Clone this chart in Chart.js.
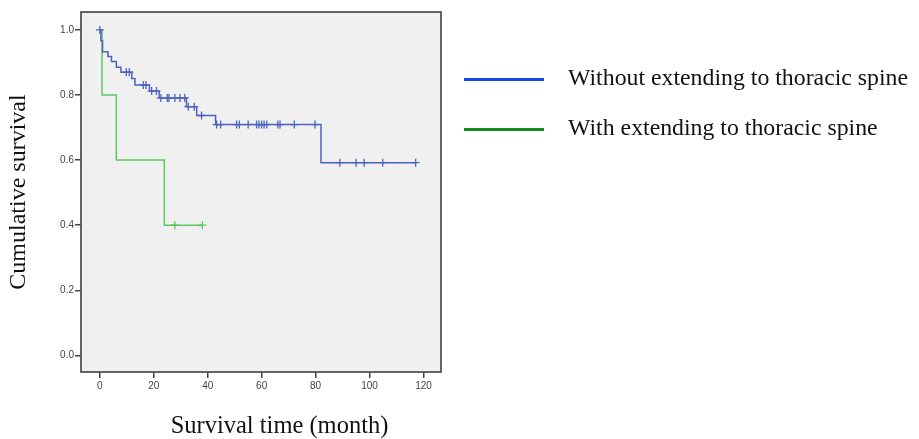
<!DOCTYPE html>
<html>
<head>
<meta charset="utf-8">
<script src="https://cdn.jsdelivr.net/npm/chart.js@4.4.0/dist/chart.umd.min.js"></script>
<style>
  html, body { margin: 0; padding: 0; background: #ffffff; }
  #wrap { position: relative; width: 919px; height: 439px; overflow: hidden; }
  #c { position: absolute; left: 0; top: 0; }
  .lgline { position: absolute; left: 464px; width: 80px; height: 3px; }
  .lgtext, .xtitle {
    position: absolute; font-family: "Liberation Serif", "Times New Roman", serif;
    color: #111; white-space: nowrap; line-height: 30px; height: 30px;
  }
  .lgtext { left: 568px; font-size: 23.8px; }
  .xtitle { left: 0; width: 559px; text-align: center; top: 410px; font-size: 24.5px; }
</style>
</head>
<body>
<div id="wrap">
  <canvas id="c" width="919" height="439"></canvas>
  <div id="legend"></div>
  <div class="xtitle" id="xtitle"></div>
</div>
<script>
// ---- data ----
const xTicks = [0, 20, 40, 60, 80, 100, 120];
const yTicks = [0.0, 0.2, 0.4, 0.6, 0.8, 1.0];
const seriesNames = ['Without extending to thoracic spine', 'With extending to thoracic spine'];
const xTitle = 'Survival time (month)';
const yTitle = 'Cumulative survival';

// Without extending to thoracic spine: event times (month) and survival after each drop
const withoutEventTimes = [0.4, 1.0, 3.0, 4.3, 6.1, 7.8, 11.8, 13.0, 18.4, 22.0, 32.1, 35.9, 42.9, 82.0];
const withoutSurvival   = [0.967, 0.933, 0.918, 0.903, 0.885, 0.870, 0.851, 0.831, 0.812, 0.791, 0.764, 0.737, 0.709, 0.592];
const withoutCensorTimes = [0, 9.8, 10.9, 16.1, 17.1, 19.2, 21.0, 22.6, 25.0, 25.6, 27.8, 29.7, 31.5,
  32.8, 35.0, 37.7, 43.3, 44.8, 50.7, 51.7, 55.0, 58.1, 59.0, 60.0, 60.9, 61.9, 66.0, 66.8, 72.1, 79.8,
  89.0, 95.0, 98.0, 104.9, 117.1];

// With extending to thoracic spine
const withEventTimes = [0.8, 6.1, 23.9];
const withSurvival   = [0.8, 0.6, 0.4];
const withCensorTimes = [27.8, 38.0];

// ---- styles ----
const curveColors  = ['#4c64be', '#5ec65e'];
const legendColors = ['#1846f2', '#148c1c'];

// ---- helpers ----
function stepPoints(times, surv, censors) {
  const pts = [{ x: 0, y: 1 }];
  times.forEach((t, i) => pts.push({ x: t, y: surv[i] }));
  const last = Math.max(times[times.length - 1], ...censors);
  pts.push({ x: last, y: surv[surv.length - 1] });
  return pts;
}
function survAt(times, surv, t) {
  let s = 1;
  for (let i = 0; i < times.length; i++) if (times[i] <= t) s = surv[i];
  return s;
}
function censorPoints(times, surv, censors) {
  return censors.map(t => ({ x: t, y: survAt(times, surv, t) }));
}

// ---- legend + x title as HTML text ----
const lg = document.getElementById('legend');
seriesNames.forEach((name, i) => {
  const line = document.createElement('div');
  line.className = 'lgline';
  line.style.top = (77.5 + i * 50) + 'px';
  line.style.background = legendColors[i];
  lg.appendChild(line);
  const txt = document.createElement('div');
  txt.className = 'lgtext';
  txt.style.top = (62 + i * 50) + 'px';
  txt.textContent = name;
  lg.appendChild(txt);
});
document.getElementById('xtitle').textContent = xTitle;

const framePlugin = {
  id: 'frame',
  beforeDatasetsDraw(chart) {
    const a = chart.chartArea, c = chart.ctx;
    c.save();
    c.fillStyle = '#f0f0f0';
    c.fillRect(a.left, a.top, a.right - a.left, a.bottom - a.top);
    c.restore();
  },
  afterDraw(chart) {
    const a = chart.chartArea, c = chart.ctx;
    c.save();
    c.strokeStyle = '#555555';
    c.lineWidth = 1.8;
    c.strokeRect(a.left, a.top, a.right - a.left, a.bottom - a.top);
    c.restore();
  }
};

const tickFont = { family: 'Liberation Sans', size: 10 };

new Chart(document.getElementById('c'), {
  type: 'line',
  data: {
    datasets: [
      { label: seriesNames[0], data: stepPoints(withoutEventTimes, withoutSurvival, withoutCensorTimes),
        stepped: true, borderColor: curveColors[0], borderWidth: 1.5, pointRadius: 0, fill: false, order: 3 },
      { label: seriesNames[1], data: stepPoints(withEventTimes, withSurvival, withCensorTimes),
        stepped: true, borderColor: curveColors[1], borderWidth: 1.5, pointRadius: 0, fill: false, order: 4 },
      { label: seriesNames[0] + ' (censored)', data: censorPoints(withoutEventTimes, withoutSurvival, withoutCensorTimes),
        showLine: false, pointStyle: 'cross', pointRadius: 4, pointBorderWidth: 1.3,
        borderColor: curveColors[0], backgroundColor: curveColors[0], order: 1 },
      { label: seriesNames[1] + ' (censored)', data: censorPoints(withEventTimes, withSurvival, withCensorTimes),
        showLine: false, pointStyle: 'cross', pointRadius: 4, pointBorderWidth: 1.3,
        borderColor: curveColors[1], backgroundColor: curveColors[1], order: 2 }
    ]
  },
  options: {
    responsive: false,
    animation: false,
    devicePixelRatio: 1,
    layout: { padding: { top: 12, right: 478, left: 0, bottom: 0 } },
    plugins: { legend: { display: false }, tooltip: { enabled: false } },
    scales: {
      x: {
        type: 'linear', min: -7, max: 126.5,
        afterBuildTicks: s => { s.ticks = xTicks.map(v => ({ value: v })); },
        afterFit: s => { s.height = 67; },
        grid: { drawOnChartArea: false, drawTicks: true, tickLength: 6, color: '#444', lineWidth: 1.5 },
        border: { display: false },
        ticks: { font: tickFont, color: '#444', padding: 2, maxRotation: 0, autoSkip: false,
                 callback: v => String(v) }
      },
      y: {
        type: 'linear', min: -0.051, max: 1.055,
        afterBuildTicks: s => { s.ticks = yTicks.map(v => ({ value: v })); },
        afterFit: s => { s.width = 81; },
        grid: { drawOnChartArea: false, drawTicks: true, tickLength: 6, color: '#444', lineWidth: 1.5 },
        border: { display: false },
        ticks: { font: tickFont, color: '#444', padding: 1, autoSkip: false,
                 callback: v => Number(v).toFixed(1) },
        title: { display: true, text: yTitle, color: '#111',
                 font: { family: 'Liberation Serif', size: 24 }, padding: { top: 4, bottom: 0 } }
      }
    }
  },
  plugins: [framePlugin]
});
</script>
</body>
</html>
